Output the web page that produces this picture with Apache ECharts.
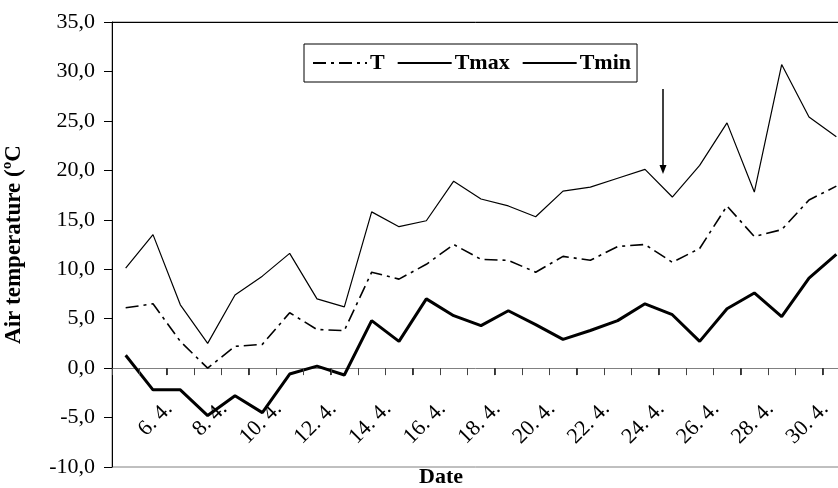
<!DOCTYPE html>
<html><head><meta charset="utf-8">
<script src="https://cdn.jsdelivr.net/npm/echarts@6/dist/echarts.min.js"></script>
<style>html,body{margin:0;padding:0;background:#fff}#c{width:838px;height:488px}</style>
</head><body><div id="c"></div>
<script>
const dates = ['4. 4.','5. 4.','6. 4.','7. 4.','8. 4.','9. 4.','10. 4.','11. 4.','12. 4.','13. 4.','14. 4.','15. 4.','16. 4.','17. 4.','18. 4.','19. 4.','20. 4.','21. 4.','22. 4.','23. 4.','24. 4.','25. 4.','26. 4.','27. 4.','28. 4.','29. 4.','30. 4.'];
const tValues    = [6.1,6.5,2.7,0.0,2.2,2.4,5.6,3.9,3.8,9.7,9.0,10.5,12.5,11.0,10.9,9.7,11.3,10.9,12.3,12.5,10.7,12.1,16.4,13.3,14.0,17.0,18.4];
const tmaxValues = [10.1,13.5,6.4,2.5,7.4,9.3,11.6,7.0,6.2,15.8,14.3,14.9,18.9,17.1,16.4,15.3,17.9,18.3,19.2,20.1,17.3,20.5,24.8,17.8,30.7,25.4,23.4];
const tminValues = [1.3,-2.2,-2.2,-4.8,-2.8,-4.5,-0.6,0.2,-0.7,4.8,2.7,7.0,5.3,4.3,5.8,4.4,2.9,3.8,4.8,6.5,5.4,2.7,6.0,7.6,5.2,9.1,11.5];
const yMin = -10, yMax = 35, yStep = 5;

const FONT = 'Liberation Serif';
const GRID_TOP = 22, GRID_H = 445;
// distance from grid bottom up to the zero line, so the category axis sits on y = 0
const zeroOffset = -GRID_H * (0 - yMin) / (yMax - yMin);

const arrowGraphics = [
  {type: 'line', shape: {x1: 663, y1: 89, x2: 663, y2: 167}, style: {stroke: '#000', lineWidth: 1.5}},
  {type: 'polygon', shape: {points: [[659.5, 165], [666.5, 165], [663, 174]]}, style: {fill: '#000'}}
];

const chart = echarts.init(document.getElementById('c'), null, {renderer: 'canvas'});
chart.setOption({
  animation: false,
  backgroundColor: '#fff',
  grid: {left: 112, top: GRID_TOP, width: 738, height: GRID_H, show: true, borderColor: '#808080', borderWidth: 1,
    outerBoundsMode: 'none'},
  title: {text: 'Date', left: 419, top: 466, padding: 0,
    textStyle: {fontFamily: FONT, fontWeight: 'bold', fontSize: 22, color: '#000'}},
  legend: {
    left: 304, top: 44, padding: [8, 6, 8, 8], itemGap: 12, itemWidth: 54, itemHeight: 14,
    borderColor: '#000', borderWidth: 1, backgroundColor: '#fff',
    itemStyle: {opacity: 0},
    textStyle: {fontFamily: FONT, fontWeight: 'bold', fontSize: 22, color: '#000', padding: [0,0,0,-2]},
    data: ['T', 'Tmax', 'Tmin']
  },
  xAxis: [{
    type: 'category', data: dates, boundaryGap: true, position: 'bottom', offset: zeroOffset,
    axisLine: {show: true, onZero: false, lineStyle: {color: '#808080', width: 1}},
    axisTick: {show: true, interval: 0, inside: false, length: 7, lineStyle: {color: '#333', width: 1}},
    axisLabel: {
      interval: function (i) { return i > 0 && i % 2 === 0; },
      rotate: 45, margin: 26, padding: [0, 16, 0, 0],
      fontFamily: FONT, fontSize: 22, color: '#000'
    },
    splitLine: {show: false}
  }, {
    type: 'category', data: dates, position: 'top', boundaryGap: true,
    axisLine: {onZero: false, lineStyle: {color: '#000', width: 1}},
    axisTick: {show: false}, axisLabel: {show: false}, splitLine: {show: false}
  }, {
    // band boundaries of the date axis (used to place the tick marks on the zero line)
    type: 'value', min: 0, max: dates.length, interval: 1, position: 'bottom', offset: zeroOffset,
    axisLine: {show: false, onZero: false},
    axisTick: {show: false}, axisLabel: {show: false}, splitLine: {show: false}
  }],
  yAxis: {
    type: 'value', min: yMin, max: yMax, interval: yStep,
    name: 'Air temperature (ºC', nameLocation: 'middle', nameGap: 86,
    nameTextStyle: {fontFamily: FONT, fontWeight: 'bold', fontSize: 23, color: '#000'},
    axisLine: {show: true, onZero: false, lineStyle: {color: '#000', width: 1}},
    axisTick: {show: true, length: 8, lineStyle: {color: '#000'}},
    axisLabel: {margin: 17, fontFamily: FONT, fontSize: 22, color: '#000',
      formatter: v => v.toFixed(1).replace('.', ',')},
    splitLine: {show: false}
  },
  series: [
    {name: 'T', type: 'line', data: tValues, symbol: 'none', smooth: false,
      lineStyle: {color: '#000', width: 1.6, type: [13, 5, 3, 5]}, itemStyle: {color: '#000'}},
    {name: 'Tmax', type: 'line', data: tmaxValues, symbol: 'none',
      lineStyle: {color: '#000', width: 1.2}, itemStyle: {color: '#000'}},
    {name: 'Tmin', type: 'line', data: tminValues, symbol: 'none',
      lineStyle: {color: '#000', width: 3}, itemStyle: {color: '#000'}}
  ],
  graphic: arrowGraphics
});

// tick marks between the dates on the zero line, positioned through the axes' own scales
try {
  const y0 = chart.convertToPixel({yAxisIndex: 0}, 0);
  const tickEls = [];
  for (let i = 0; i <= dates.length; i++) {
    const x = Math.round(chart.convertToPixel({xAxisIndex: 2}, i)) + 0.5;
    if (!isFinite(x) || !isFinite(y0)) continue;
    tickEls.push({type: 'line', silent: true, z: 5,
      shape: {x1: x, y1: Math.round(y0), x2: x, y2: Math.round(y0) + 7},
      style: {stroke: '#444', lineWidth: 1}});
  }
  chart.setOption({graphic: {elements: arrowGraphics.concat(tickEls)}});
} catch (e) {}
</script>
</body></html>
